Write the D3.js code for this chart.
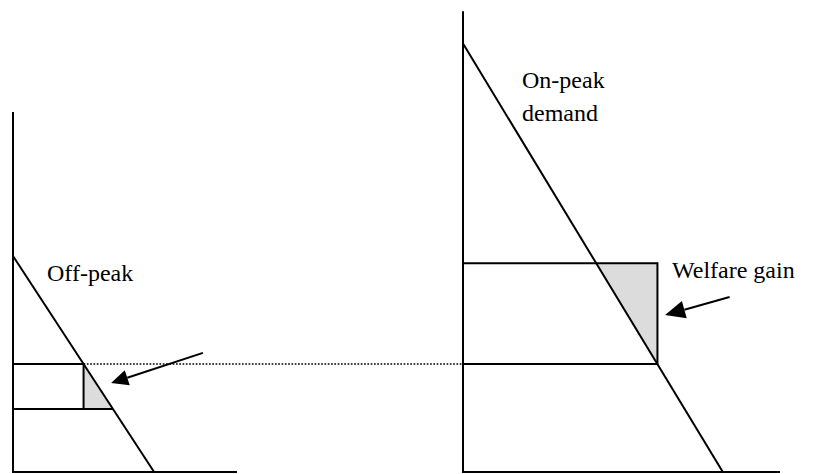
<!DOCTYPE html>
<html>
<head>
<meta charset="utf-8">
<script src="https://cdn.jsdelivr.net/npm/d3@7"></script>
<style>
    body { margin: 0; background: #fff; }
    text { font-family: "Liberation Serif", "Times New Roman", serif; fill: #000; }
</style>
</head>
<body>
<svg id="chart" width="825" height="474"></svg>
<script>
//需求曲线 (数量, 价格)
var offPeakDemand = [[0, 6.0], [6.3, 0]];
var onPeakDemand = [[0, 11.9], [11.6, 0]];

//价格
var flatPrice = 3.0;
var offPeakPrice = 1.75;
var onPeakPrice = 5.8;

//对应价格下的需求量
var offPeakQty = [3.15, 4.46];   // 统一价, 低谷价
var onPeakQty = [5.95, 8.68];    // 高峰价, 统一价

//坐标轴长度 [左图, 右图]
var axisTop = [10, 12.8];
var axisEnd = [10, 14.15];

//箭头 [起点, 终点]
var offPeakArrow = [[8.48, 3.31], [4.38, 2.47]];
var onPeakArrow = [[11.9, 4.86], [9.02, 4.36]];

var svg = d3.select("#chart");

var y = d3.scaleLinear().domain([0, 10]).range([472, 112]);
var xL = d3.scaleLinear().domain([0, 10]).range([13, 237]);
var xR = d3.scaleLinear().domain([0, 10]).range([463, 687]);

var line = function (x) {
    return d3.line().x(d => x(d[0])).y(d => y(d[1]));
};

//坐标轴生成函数
function axisDraw(container, x, top, end) {
    container.append("path")
        .attr("d", line(x)([[0, top], [0, 0], [end, 0]]))
        .attr("fill", "none")
        .attr("stroke", "#000")
        .attr("stroke-width", 2);
}

//福利三角形
function triangleDraw(container, x, pts) {
    container.append("path")
        .attr("d", line(x)(pts) + "Z")
        .attr("fill", "#dcdcdc")
        .attr("stroke", "none");
}

//线段
function segDraw(container, x, pts, width) {
    container.append("path")
        .attr("d", line(x)(pts))
        .attr("fill", "none")
        .attr("stroke", "#000")
        .attr("stroke-width", width);
}

//箭头生成函数
function arrowDraw(container, x, pts, len, half) {
    var x0 = x(pts[0][0]), y0 = y(pts[0][1]);
    var x1 = x(pts[1][0]), y1 = y(pts[1][1]);
    var a = Math.atan2(y1 - y0, x1 - x0);
    var bx = x1 - len * Math.cos(a), by = y1 - len * Math.sin(a);
    container.append("line")
        .attr("x1", x0).attr("y1", y0)
        .attr("x2", bx).attr("y2", by)
        .attr("stroke", "#000")
        .attr("stroke-width", 2);
    container.append("polygon")
        .attr("points", [
            [x1, y1],
            [bx + half * Math.sin(a), by - half * Math.cos(a)],
            [bx - half * Math.sin(a), by + half * Math.cos(a)]
        ].map(p => p.join(",")).join(" "))
        .attr("fill", "#000");
}

var left = svg.append("g").attr("class", "offPeak");
var right = svg.append("g").attr("class", "onPeak");

//阴影
triangleDraw(left, xL, [[offPeakQty[0], flatPrice], [offPeakQty[0], offPeakPrice], [offPeakQty[1], offPeakPrice]]);
triangleDraw(right, xR, [[onPeakQty[0], onPeakPrice], [onPeakQty[1], onPeakPrice], [onPeakQty[1], flatPrice]]);

//虚线
svg.append("line")
    .attr("x1", xL(offPeakQty[0]))
    .attr("y1", y(flatPrice))
    .attr("x2", xR(0))
    .attr("y2", y(flatPrice))
    .attr("stroke", "#000")
    .attr("stroke-width", 1.6)
    .attr("stroke-dasharray", "1.7,1.6");

//左图
axisDraw(left, xL, axisTop[0], axisEnd[0]);
segDraw(left, xL, offPeakDemand, 2);
segDraw(left, xL, [[0, flatPrice], [offPeakQty[0], flatPrice], [offPeakQty[0], offPeakPrice]], 2);
segDraw(left, xL, [[0, offPeakPrice], [offPeakQty[1], offPeakPrice]], 2);
arrowDraw(left, xL, offPeakArrow, 17, 8);

//右图
axisDraw(right, xR, axisTop[1], axisEnd[1]);
segDraw(right, xR, onPeakDemand, 2);
segDraw(right, xR, [[0, onPeakPrice], [onPeakQty[1], onPeakPrice], [onPeakQty[1], flatPrice]], 2);
segDraw(right, xR, [[0, flatPrice], [onPeakQty[1], flatPrice]], 2);
arrowDraw(right, xR, onPeakArrow, 20, 9);

//文字
svg.append("text").text("Off-peak")
    .attr("x", 47).attr("y", 281)
    .attr("font-size", 24);

svg.append("text")
    .attr("x", 522).attr("y", 88)
    .attr("font-size", 24)
    .selectAll("tspan")
    .data(["On-peak", "demand"])
    .join("tspan")
    .attr("x", 522)
    .attr("dy", (d, i) => i === 0 ? 0 : 33)
    .text(d => d);

svg.append("text").text("Welfare gain")
    .attr("x", 672).attr("y", 278)
    .attr("font-size", 24);
</script>
</body>
</html>
